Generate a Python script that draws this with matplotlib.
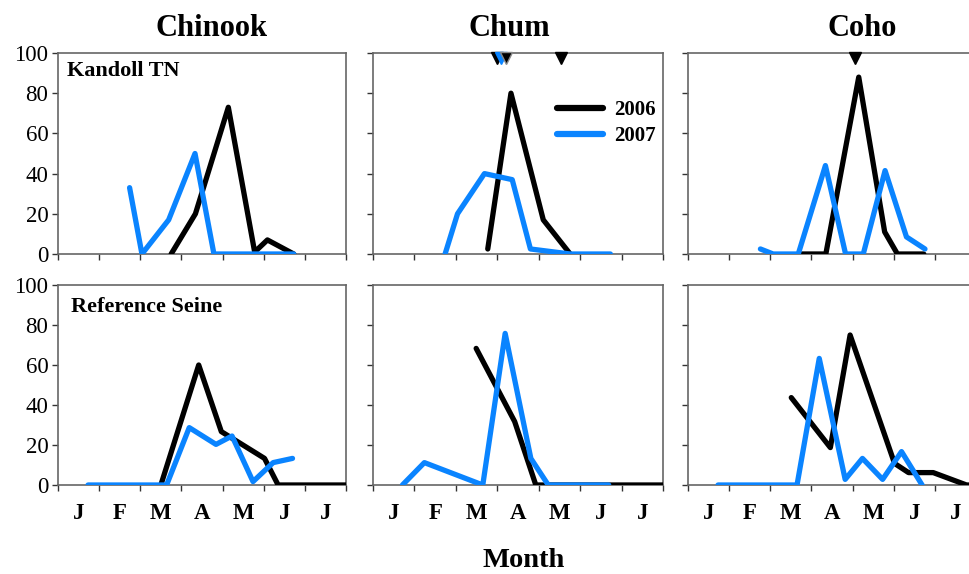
import matplotlib
matplotlib.use("Agg")
import matplotlib.pyplot as plt
from matplotlib.lines import Line2D

# ---------------- data (x in months from 1 Jan; y = percent) ----------------
species = ["Chinook", "Chum", "Coho"]
sites = ["Kandoll TN", "Reference Seine"]
month_labels = ["J", "F", "M", "A", "M", "J", "J"]
years = ["2006", "2007"]

# Kandoll TN
tn_chinook_06_x = [2.75, 3.34, 4.14, 4.78, 5.09, 5.73]
tn_chinook_06_y = [0, 20, 73, 1, 7, 0]
tn_chinook_07_x = [1.74, 2.04, 2.69, 3.33, 3.79, 4.14, 4.78, 5.09, 5.73]
tn_chinook_07_y = [33, 0, 17, 50, 0, 0, 0, 0, 0]

tn_chum_06_x = [2.77, 3.33, 4.11, 4.76]
tn_chum_06_y = [2.5, 80, 17, 0]
tn_chum_07_x = [1.74, 2.04, 2.69, 3.36, 3.80, 4.76, 5.73]
tn_chum_07_y = [0, 20, 40, 37, 2.5, 0, 0]

tn_coho_06_x = [2.75, 3.35, 4.15, 4.78, 5.09, 5.73]
tn_coho_06_y = [0, 0, 88, 11, 0, 0]
tn_coho_07_x = [1.76, 2.07, 2.68, 3.34, 3.83, 4.26, 4.79, 5.31, 5.76]
tn_coho_07_y = [2.5, 0, 0, 44, 0, 0, 41.5, 8.5, 2.5]

# Reference Seine
rs_chinook_06_x = [2.50, 3.42, 3.97, 5.02, 5.35, 5.96, 7.0]
rs_chinook_06_y = [0, 60, 26.7, 13.3, 0, 0, 0]
rs_chinook_07_x = [0.73, 1.20, 1.73, 2.20, 2.64, 3.19, 3.84, 4.23, 4.74, 5.23, 5.70]
rs_chinook_07_y = [0, 0, 0, 0, 0, 28.7, 20.3, 24.5, 1.7, 11.2, 13.3]

rs_chum_06_x = [2.49, 3.42, 3.93, 5.02, 5.35, 5.96, 7.0]
rs_chum_06_y = [68.3, 31.7, 0, 0, 0, 0, 0]
rs_chum_07_x = [0.71, 1.24, 2.65, 3.19, 3.81, 4.23, 4.74, 5.23, 5.69]
rs_chum_07_y = [0, 11.2, 0, 75.8, 13.3, 0, 0, 0, 0]

rs_coho_06_x = [2.51, 3.46, 3.94, 5.02, 5.36, 5.96, 6.77, 7.0]
rs_coho_06_y = [43.7, 18.7, 75, 10.8, 6.2, 6.2, 0, 0]
rs_coho_07_x = [0.73, 1.20, 1.73, 2.20, 2.65, 3.19, 3.82, 4.24, 4.73, 5.19, 5.69]
rs_coho_07_y = [0, 0, 0, 0, 0, 63.3, 2.8, 13.3, 2.8, 16.7, 0]

# event markers (triangles at top), top row only
mark_chum_06_x = [3.0, 4.53]
mark_chum_07_x = [3.1]
mark_chum_06b_x = [3.2]
mark_coho_06_x = [4.06]
mark_level = 97.5

data = {
    (0, 0): (tn_chinook_06_x, tn_chinook_06_y, tn_chinook_07_x, tn_chinook_07_y),
    (0, 1): (tn_chum_06_x, tn_chum_06_y, tn_chum_07_x, tn_chum_07_y),
    (0, 2): (tn_coho_06_x, tn_coho_06_y, tn_coho_07_x, tn_coho_07_y),
    (1, 0): (rs_chinook_06_x, rs_chinook_06_y, rs_chinook_07_x, rs_chinook_07_y),
    (1, 1): (rs_chum_06_x, rs_chum_06_y, rs_chum_07_x, rs_chum_07_y),
    (1, 2): (rs_coho_06_x, rs_coho_06_y, rs_coho_07_x, rs_coho_07_y),
}

# ---------------- style ----------------
BLACK = "#000000"
BLUE = "#0a84ff"
SERIF = ["Liberation Serif", "DejaVu Serif"]
plt.rcParams["font.family"] = SERIF
LW = 3.8

W, H = 969, 574
fig = plt.figure(figsize=(W / 100, H / 100), dpi=100)

col_left = [58, 373, 688]
col_width = [288, 290, 288]
row_top = [53, 285]
row_bottom = [254, 485]

axes = {}
for r in range(2):
    for c in range(3):
        l = col_left[c] / W
        b = (H - row_bottom[r]) / H
        w = col_width[c] / W
        h = (row_bottom[r] - row_top[r]) / H
        ax = fig.add_axes([l, b, w, h])
        axes[(r, c)] = ax
        x6, y6, x7, y7 = data[(r, c)]
        ax.plot(x6, y6, color=BLACK, lw=LW, solid_capstyle="round",
                solid_joinstyle="round", zorder=3)
        ax.plot(x7, y7, color=BLUE, lw=LW, solid_capstyle="round",
                solid_joinstyle="round", zorder=4)
        ax.set_xlim(0, 7)
        ax.set_ylim(0, 100)
        ax.set_xticks(range(8))
        ax.set_xticks([i + 0.5 for i in range(7)], minor=True)
        ax.set_xticklabels([])
        ax.set_yticks(range(0, 101, 20))
        ax.tick_params(axis="x", which="major", direction="out", length=4,
                       width=1, color="#333333")
        ax.tick_params(axis="x", which="minor", length=0, pad=13)
        ax.tick_params(axis="y", direction="out", length=4, width=1,
                       color="#333333", labelsize=16.5, pad=3)
        if r == 1:
            ax.set_xticklabels(month_labels, minor=True, fontsize=16.5,
                               fontweight="bold")
        if c != 0:
            ax.set_yticklabels([])
        for s in ax.spines.values():
            s.set_color("#666666")
            s.set_linewidth(1.2)

# panel labels
axes[(0, 0)].text(0.031, 0.886, sites[0], transform=axes[(0, 0)].transAxes,
                  fontsize=16, fontweight="bold", va="baseline", ha="left")
axes[(1, 0)].text(0.045, 0.865, sites[1], transform=axes[(1, 0)].transAxes,
                  fontsize=16, fontweight="bold", va="baseline", ha="left")

# markers
axc = axes[(0, 1)]
axc.plot(mark_chum_06_x[:1], [mark_level], "v", color=BLACK, ms=8.5,
         clip_on=False, zorder=5)
axc.plot(mark_chum_07_x, [mark_level], "v", color=BLUE, ms=8.5,
         clip_on=False, zorder=6)
axc.plot(mark_chum_06b_x, [mark_level], "v", color=BLACK, mec="#888888",
         ms=8.5, clip_on=False, zorder=7)
axc.plot(mark_chum_06_x[1:], [mark_level], "v", color=BLACK, ms=8.5,
         clip_on=False, zorder=5)
axes[(0, 2)].plot(mark_coho_06_x, [mark_level], "v", color=BLACK, ms=8.5,
                  clip_on=False, zorder=5)

# legend in top middle
handles = [Line2D([], [], color=BLACK, lw=4.5, solid_capstyle="round"),
           Line2D([], [], color=BLUE, lw=4.5, solid_capstyle="round")]
axc.legend(handles, years, loc="upper left", bbox_to_anchor=(0.635, 0.765),
           frameon=False, borderaxespad=0, borderpad=0, handlelength=2.2,
           handletextpad=0.55, labelspacing=0.3,
           prop={"family": SERIF, "weight": "bold", "size": 15})

# titles
title_x = [212, 509, 862]
for name, tx in zip(species, title_x):
    fig.text(tx / W, 1 - 36 / H, name, ha="center", va="baseline",
             fontsize=22, fontweight="bold")

fig.text(524 / W, 1 - 567 / H, "Month", ha="center", va="baseline",
         fontsize=20.5, fontweight="bold")

fig.savefig("out.png", dpi=100)
